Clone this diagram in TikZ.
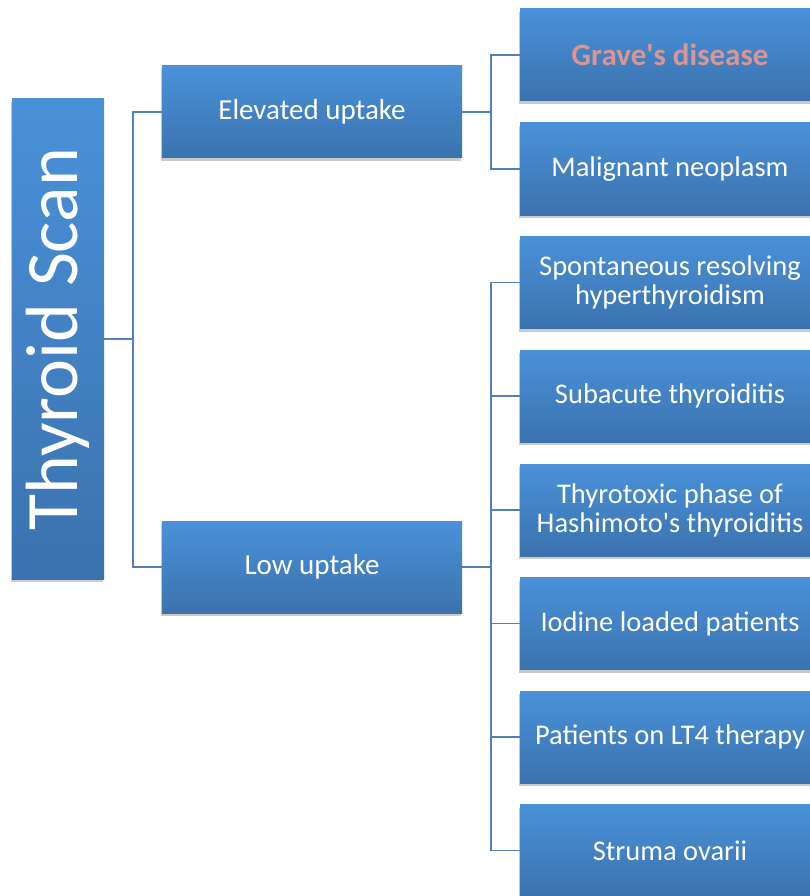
\documentclass[tikz,border=0pt]{standalone}
\usepackage{fontspec}
\setmainfont{Carlito}[Ligatures=TeXOff]
\usepackage{tikz}
\usetikzlibrary{positioning, shadows}

\definecolor{boxtop}{RGB}{74,145,217}
\definecolor{boxbot}{RGB}{59,114,174}
\definecolor{linkblue}{RGB}{84,128,184}
\definecolor{gravepink}{RGB}{217,150,148}

\tikzset{
  box/.style={rectangle, top color=boxtop, bottom color=boxbot, draw=none,
    text=white, align=center, inner sep=0pt,
    drop shadow={shadow xshift=-1pt, shadow yshift=-3pt, opacity=0.35, fill=black!60}},
  midbox/.style={box, minimum width=300pt, minimum height=92pt, font=\fontsize{29}{30}\selectfont},
  leafbox/.style={box, minimum width=300pt, minimum height=92pt, font=\fontsize{28.5}{29}\selectfont},
  link/.style={draw=linkblue, line width=1.6pt}
}

\begin{document}
\begin{tikzpicture}[x=1pt, y=1pt]
  \useasboundingbox (0,0) rectangle (810,-896);
  \clip (0,0) rectangle (810,-896);
  % root
  \node[box, minimum width=92pt, minimum height=480pt] (root) at (58,-339) {};
  \node[rotate=90, text=white, font=\fontsize{74}{76}\selectfont] (roottext) at (root.center) {Thyroid Scan};
  % second level
  \node[midbox] (elev) at (312,-112) {Elevated uptake};
  \node[midbox] (low) at (312,-567) {Low uptake};
  % leaves
  \node[leafbox, font=\fontsize{31}{32}\selectfont\bfseries, text=gravepink] (grave) at (670,-55) {Grave's disease};
  \node[leafbox] (malig) at (670,-169) {Malignant neoplasm};
  \node[leafbox] (spont) at (670,-282.5) {Spontaneous resolving\\hyperthyroidism};
  \node[leafbox] (subac) at (670,-396) {Subacute thyroiditis};
  \node[leafbox] (thyro) at (670,-510) {Thyrotoxic phase of\\Hashimoto's thyroiditis};
  \node[leafbox] (iodine) at (670,-623.5) {Iodine loaded patients};
  \node[leafbox] (lt4) at (670,-737) {Patients on LT4 therapy};
  \node[leafbox] (struma) at (670,-850.5) {Struma ovarii};
  % connectors
  \draw[link] (root.east) -- ++(29,0) |- (elev.west);
  \draw[link] (root.east) -- ++(29,0) |- (low.west);
  \foreach \leaf in {grave, malig}
    \draw[link] (elev.east) -- ++(29,0) |- (\leaf.west);
  \foreach \leaf in {spont, subac, thyro, iodine, lt4, struma}
    \draw[link] (low.east) -- ++(29,0) |- (\leaf.west);
\end{tikzpicture}
\end{document}
